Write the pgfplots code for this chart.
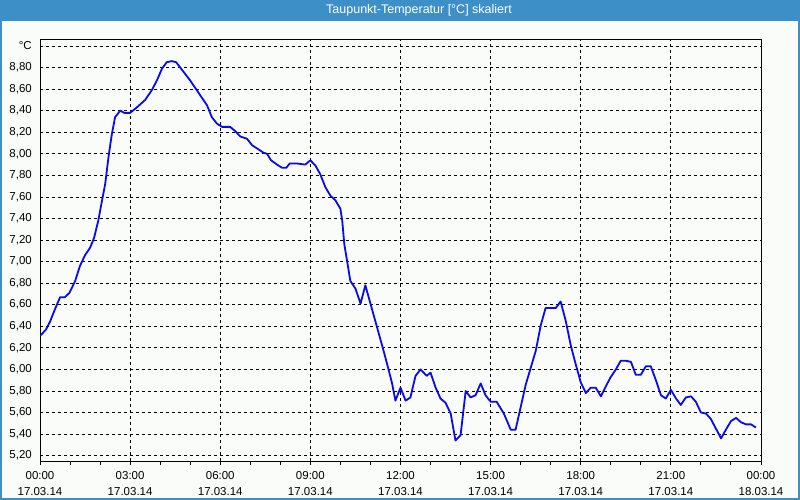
\documentclass[border=0pt]{standalone}
\usepackage{pgfplots}
\pgfplotsset{compat=1.18}
\usepackage{fontspec}
\setmainfont{Liberation Sans}
\definecolor{barblue}{RGB}{61,143,199}
\definecolor{bgc}{RGB}{250,252,250}
\definecolor{lineblue}{RGB}{10,10,235}
\begin{document}
\begin{tikzpicture}
\fill[bgc] (0,0) rectangle (800bp,500bp);
\fill[barblue] (0,479bp) rectangle (800bp,500bp);
\draw[barblue, line width=2bp] (1bp,1bp) rectangle (799bp,499bp);
\node[white, font=\fontsize{12.5bp}{14bp}\selectfont] at (419bp,490bp) {Taupunkt-Temperatur [°C] skaliert};
\begin{axis}[
  at={(40bp,39bp)}, anchor=south west,
  width=721bp, height=421bp, scale only axis,
  xmin=0, xmax=24, ymin=5.15, ymax=9.056,
  axis line style={black, line width=1bp},
  xtick={0,3,...,24},
  minor xtick={1,2,4,5,7,8,10,11,13,14,16,17,19,20,22,23},
  xticklabels={{00:00\\17.03.14},{03:00\\17.03.14},{06:00\\17.03.14},{09:00\\17.03.14},{12:00\\17.03.14},{15:00\\17.03.14},{18:00\\17.03.14},{21:00\\17.03.14},{00:00\\18.03.14}},
  ytick={5.2,5.4,5.6,5.8,6.0,6.2,6.4,6.6,6.8,7.0,7.2,7.4,7.6,7.8,8.0,8.2,8.4,8.6,8.8,9.0},
  yticklabels={{5,20},{5,40},{5,60},{5,80},{6,00},{6,20},{6,40},{6,60},{6,80},{7,00},{7,20},{7,40},{7,60},{7,80},{8,00},{8,20},{8,40},{8,60},{8,80},{°C}},
  xtick pos=bottom, ytick pos=left,
  tick align=outside,
  xtick style={black, line width=1bp},
  major tick length=4bp, minor tick length=4bp,
  ytick style={draw=none},
  xmajorgrids, ymajorgrids,
  major grid style={black, line width=0.8bp, dash pattern=on 3bp off 3bp},
  ticklabel style={font=\fontsize{11.5bp}{16bp}\selectfont, black},
  xticklabel style={align=center, inner sep=0pt, yshift=-6bp},
  yticklabel style={inner sep=0pt, xshift=-4bp},
]
\addplot[lineblue, line width=1.8bp, line join=round] coordinates {
(0.0,6.31) (0.2,6.37) (0.33,6.44) (0.5,6.56) (0.67,6.67) (0.83,6.67) (0.98,6.71)
(1.17,6.82) (1.33,6.96) (1.5,7.06) (1.67,7.13) (1.8,7.22) (1.94,7.38) (2.06,7.56)
(2.17,7.72) (2.28,7.97) (2.39,8.18) (2.5,8.34) (2.67,8.40) (2.81,8.38) (3.0,8.38)
(3.22,8.43) (3.5,8.50) (3.72,8.59) (3.89,8.68) (4.06,8.79) (4.22,8.85) (4.39,8.86)
(4.53,8.85) (4.78,8.76) (5.0,8.68) (5.22,8.59) (5.39,8.52) (5.56,8.45) (5.72,8.34)
(5.89,8.28) (6.06,8.25) (6.33,8.25) (6.5,8.21) (6.67,8.16) (6.89,8.14) (7.06,8.08)
(7.28,8.04) (7.44,8.01) (7.56,8.00) (7.69,7.94) (7.89,7.90) (8.06,7.87) (8.2,7.87)
(8.31,7.91) (8.56,7.91) (8.83,7.90) (9.0,7.94) (9.17,7.89) (9.33,7.81) (9.5,7.69)
(9.67,7.61) (9.83,7.57) (10.0,7.49) (10.06,7.38) (10.13,7.16) (10.22,7.01) (10.33,6.82)
(10.5,6.75) (10.67,6.61) (10.83,6.78) (11.0,6.61) (11.22,6.39) (11.44,6.17) (11.61,5.99)
(11.72,5.87) (11.83,5.71) (12.0,5.83) (12.17,5.71) (12.33,5.74) (12.5,5.94) (12.67,6.00)
(12.87,5.94) (13.0,5.97) (13.17,5.83) (13.33,5.73) (13.5,5.69) (13.67,5.59) (13.83,5.34)
(14.0,5.39) (14.17,5.80) (14.33,5.74) (14.5,5.76) (14.67,5.87) (14.83,5.76) (15.0,5.70)
(15.2,5.70) (15.44,5.59) (15.67,5.44) (15.83,5.44) (16.0,5.65) (16.17,5.86) (16.33,6.01)
(16.5,6.17) (16.67,6.41) (16.83,6.57) (17.17,6.57) (17.33,6.63) (17.5,6.45) (17.67,6.22)
(17.83,6.05) (18.0,5.88) (18.17,5.78) (18.33,5.83) (18.5,5.83) (18.67,5.75) (18.83,5.84)
(19.0,5.93) (19.17,6.00) (19.33,6.08) (19.5,6.08) (19.67,6.07) (19.83,5.95) (20.0,5.95)
(20.17,6.03) (20.33,6.03) (20.5,5.90) (20.67,5.76) (20.83,5.73) (21.0,5.81) (21.17,5.73)
(21.33,5.67) (21.5,5.74) (21.67,5.75) (21.83,5.70) (22.0,5.60) (22.17,5.59) (22.33,5.54)
(22.5,5.45) (22.67,5.36) (22.83,5.44) (23.0,5.52) (23.17,5.55) (23.33,5.51) (23.5,5.49)
(23.67,5.49) (23.83,5.46)
};
\end{axis}
\pgfresetboundingbox
\useasboundingbox (0,0) rectangle (800bp,500bp);
\end{tikzpicture}
\end{document}
